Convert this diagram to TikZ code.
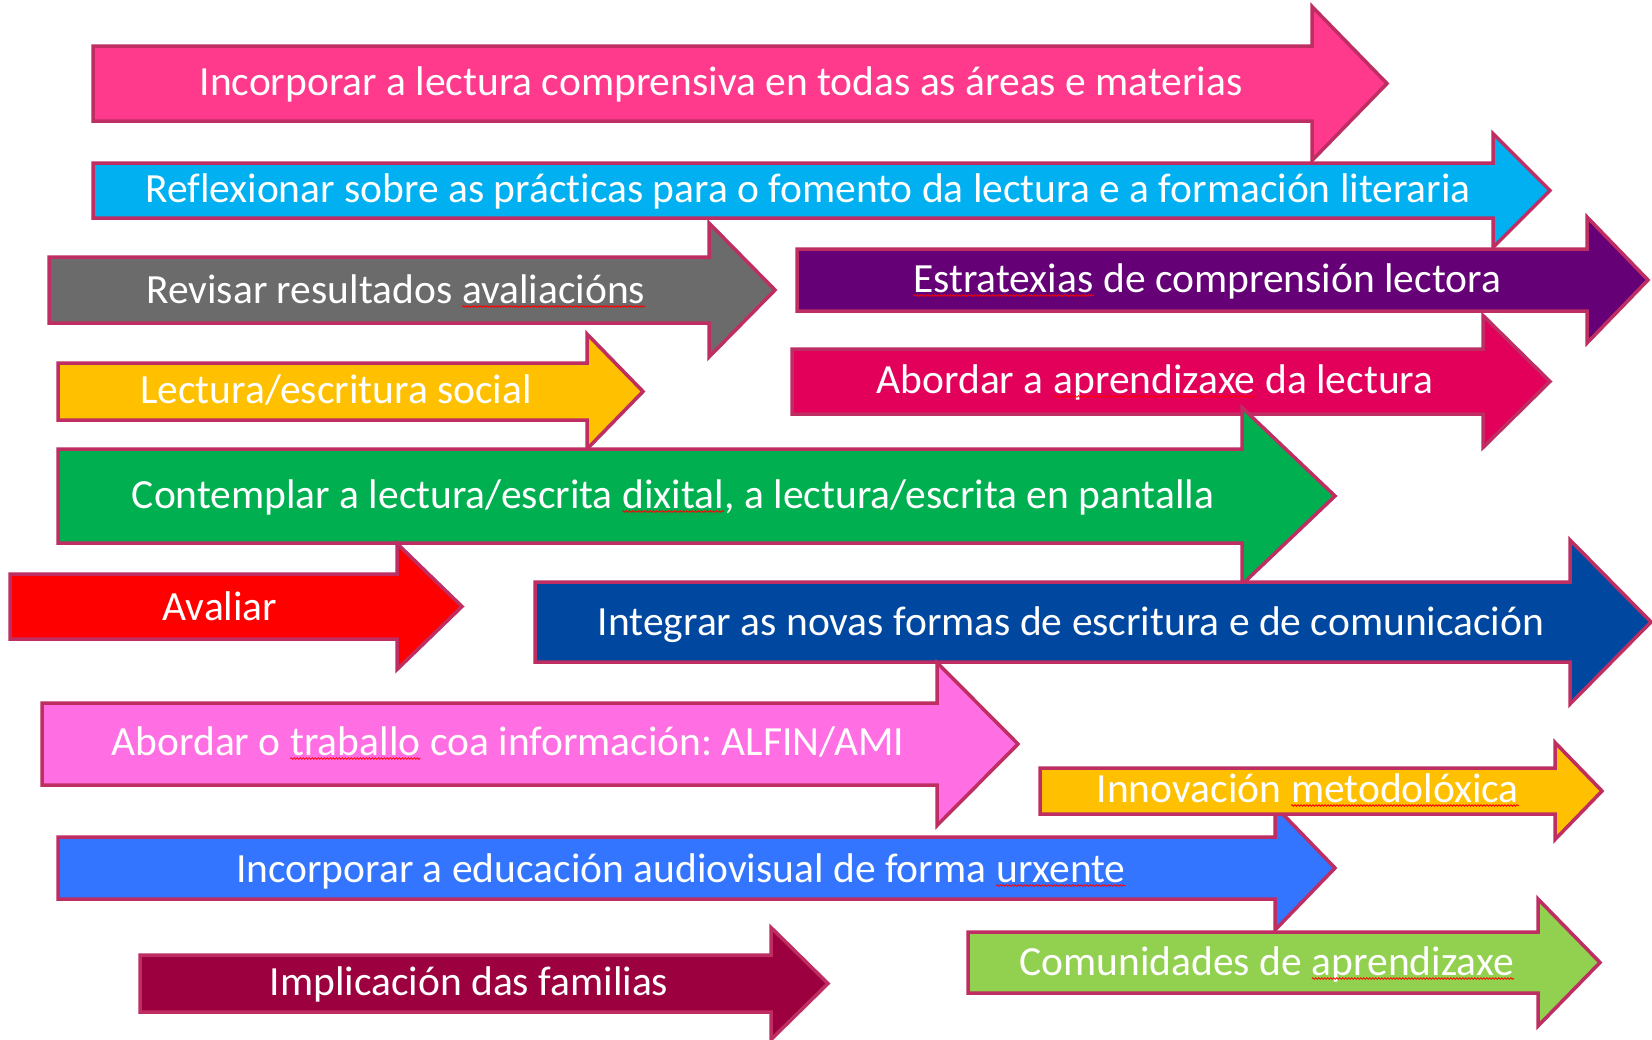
\documentclass[tikz,border=0pt]{standalone}
\usepackage{fontspec}
\setmainfont{Carlito}[Ligatures={NoCommon}]
\frenchspacing
\usetikzlibrary{decorations.pathmorphing}
\definecolor{edgec}{HTML}{BE2E62}
\definecolor{cPink}{HTML}{FF3A8C}
\definecolor{cCyan}{HTML}{00B0F0}
\definecolor{cGray}{HTML}{6B6B6B}
\definecolor{cPurple}{HTML}{660077}
\definecolor{cYellow}{HTML}{FFC000}
\definecolor{cCrimson}{HTML}{E2005A}
\definecolor{cGreen}{HTML}{00B050}
\definecolor{cRed}{HTML}{FF0000}
\definecolor{cNavy}{HTML}{0047A0}
\definecolor{cPinkL}{HTML}{FF6FE3}
\definecolor{cBlue}{HTML}{3375FF}
\definecolor{cLime}{HTML}{92D050}
\definecolor{cMaroon}{HTML}{9C003E}
\tikzset{
  arr/.style={draw=edgec, line width=3.5pt, line join=miter},
  lbl/.style={text=white, font=\fontsize{41.5}{48}\selectfont, anchor=base, inner sep=0pt, outer sep=0pt},
}
% #1 colour, #2 left x, #3 top y, #4 bottom y, #5 shaft end x, #6 head half height, #7 tip x
\newcommand\rarrow[7]{%
  \filldraw[arr, fill=#1] (#2,#3) -- (#5,#3) -- (#5,{(#3+#4)/2-#6}) -- (#7,{(#3+#4)/2})
    -- (#5,{(#3+#4)/2+#6}) -- (#5,#4) -- (#2,#4) -- cycle;}
\newcommand\sqg[1]{\tikz[baseline=0pt]{\node[inner sep=0pt,outer sep=0pt,anchor=base,text=white] (sqw) at (0pt,0pt) {#1};
  \draw[red,line width=0.8pt,decorate,decoration={snake,amplitude=0.8pt,segment length=3pt}]
    ([yshift=-3.5pt]sqw.base west) -- ([yshift=-3.5pt]sqw.base east);}}
\begin{document}
\begin{tikzpicture}[x=1pt,y=-1pt]
\useasboundingbox[fill=white] (0,0) rectangle (1652,1039);
\rarrow{cPink}{93}{46}{121}{1312}{77}{1387}
\node[lbl] (t1) at (721,95) {Incorporar a lectura comprensiva en todas as áreas e materias};
\rarrow{cCyan}{93}{163}{218}{1493}{57}{1550}
\node[lbl] (t2) at (808,202) {Reflexionar sobre as prácticas para o fomento da lectura e a formación literaria};
\rarrow{cGray}{49}{257}{323}{709}{67}{775}
\node[lbl] (t3) at (396,303) {Revisar resultados \sqg{avaliacións}};
\rarrow{cPurple}{797}{249}{311}{1587}{63}{1648}
\node[lbl] (t4) at (1207,292) {\sqg{Estratexias} de comprensión lectora};
\rarrow{cYellow}{58}{363}{420}{587}{57.5}{643}
\node[lbl] (t5) at (336,403) {Lectura/escritura social};
\rarrow{cCrimson}{792}{349}{414}{1483}{66}{1550}
\node[lbl] (t6) at (1155,393) {Abordar a \sqg{aprendizaxe} da lectura};
\rarrow{cGreen}{58}{449}{543}{1242}{88.5}{1335}
\node[lbl] (t7) at (673,508) {Contemplar a lectura/escrita \sqg{dixital}, a lectura/escrita en pantalla};
\rarrow{cRed}{10}{574}{639}{397}{63}{462}
\node[lbl] (t8) at (220,620) {\sqg{Avaliar}};
\rarrow{cNavy}{535}{582}{662}{1570}{82}{1651}
\node[lbl] (t9) at (1071,635) {Integrar as novas formas de escritura e de comunicación};
\rarrow{cPinkL}{42}{703}{785}{937}{81.5}{1018}
\node[lbl] (t10) at (508,755) {Abordar o \sqg{traballo} coa información: ALFIN/AMI};
\rarrow{cBlue}{58}{837}{899}{1275}{62}{1335}
\node[lbl] (t12) at (681,882) {Incorporar a educación audiovisual de forma \sqg{urxente}};
\rarrow{cYellow}{1040}{768}{814}{1555}{48.5}{1602}
\node[lbl] (t11) at (1308,802) {Innovación \sqg{metodolóxica}};
\rarrow{cLime}{968}{932}{993}{1538}{63.5}{1600}
\node[lbl] (t13) at (1267,975) {Comunidades de \sqg{aprendizaxe}};
\rarrow{cMaroon}{140}{955}{1012}{771}{56}{828}
\node[lbl] (t14) at (469,995) {Implicación das familias};
\end{tikzpicture}
\end{document}
